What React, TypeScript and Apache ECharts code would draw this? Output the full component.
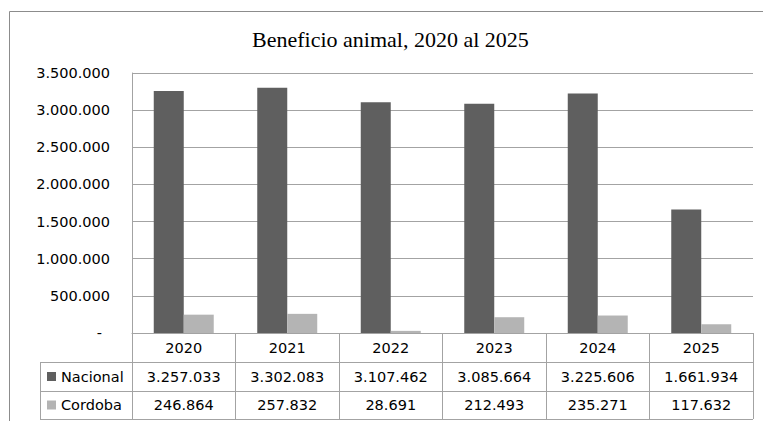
import React, { useEffect, useRef } from 'react';
import * as echarts from 'echarts';

const titleText = 'Beneficio animal, 2020 al 2025';
const categories = ['2020', '2021', '2022', '2023', '2024', '2025'];
const seriesNames = ['Nacional', 'Cordoba'];
const nacional = [3257033, 3302083, 3107462, 3085664, 3225606, 1661934];
const cordoba = [246864, 257832, 28691, 212493, 235271, 117632];
const seriesColors = ['#5f5f5f', '#b4b4b4'];
const yMin = 0;
const yMax = 3500000;
const yInterval = 500000;

const fmt = (v: number) => String(Math.round(v)).replace(/\B(?=(\d{3})+(?!\d))/g, '.');

const FONT = 'DejaVu Sans';
const FS = 14.5;
const LINE = '#a3a3a3';
const FRAME = '#8c8c8c';

export default function App() {
  const ref = useRef<HTMLDivElement>(null);
  useEffect(() => {
    if (!ref.current) return;
    const chart = echarts.init(ref.current, null, { renderer: 'svg' });
    const gridLeft = 132;
    const gridTop = 73;
    const gridRightX = 753;
    const axisY = 333;
    const rowH = [29, 29, 28];
    const tableLeft = 40;
    const W = 763;
    const H = 421;
    chart.setOption({
      animation: false,
      backgroundColor: '#ffffff',
      title: {
        text: titleText,
        left: 252,
        top: 28,
        padding: 0,
        textStyle: { fontFamily: 'Liberation Serif', fontSize: 22, fontWeight: 'normal', color: '#000' },
      },
      grid: { left: gridLeft, top: gridTop, right: W - gridRightX, bottom: H - axisY, containLabel: false },
      xAxis: {
        type: 'category',
        data: categories,
        axisLine: { show: true, lineStyle: { color: LINE, width: 1 } },
        axisTick: { show: true, length: rowH[0] + rowH[1] + rowH[2], lineStyle: { color: LINE, width: 1 } },
        axisLabel: {
          margin: 0,
          lineHeight: rowH[0],
          verticalAlign: 'top',
          fontFamily: FONT,
          fontSize: FS,
          fontWeight: 'normal',
          color: '#000',
        },
      },
      yAxis: {
        type: 'value',
        min: yMin,
        max: yMax,
        interval: yInterval,
        axisLine: { show: true, lineStyle: { color: LINE, width: 1 } },
        axisTick: { show: false },
        splitLine: { show: true, lineStyle: { color: LINE, width: 1 } },
        axisLabel: {
          margin: 22,
          fontFamily: FONT,
          fontSize: FS,
          fontWeight: 'normal',
          color: '#000',
          formatter: (v: number) => (v === 0 ? '{z|-}' : fmt(v)),
          rich: { z: { fontFamily: FONT, fontSize: FS, fontWeight: 'normal', color: '#000', padding: [0, 8, 0, 0] } },
        },
      },
      series: [
        {
          name: seriesNames[0],
          type: 'bar',
          data: nacional,
          barWidth: 30,
          barGap: '0%',
          itemStyle: { color: seriesColors[0] },
        },
        {
          name: seriesNames[1],
          type: 'bar',
          data: cordoba,
          barWidth: 30,
          barGap: '0%',
          itemStyle: { color: seriesColors[1] },
        },
      ],
    });

    const r1 = axisY + rowH[0];
    const r2 = r1 + rowH[1];
    const r3 = r2 + rowH[2];
    const graphics: any[] = [];
    const ln = (x1: number, y1: number, x2: number, y2: number, color: string) =>
      graphics.push({ type: 'line', silent: true, shape: { x1, y1, x2, y2 }, style: { stroke: color, lineWidth: 1 } });
    // outer frame
    ln(9.5, 11.5, W, 11.5, FRAME);
    ln(9.5, 11.5, 9.5, H, FRAME);
    // table lines
    [r1, r2, r3].forEach((y) => ln(tableLeft, y + 0.5, gridRightX, y + 0.5, LINE));
    ln(tableLeft + 0.5, r1, tableLeft + 0.5, r3 + 0.5, LINE);
    const rowsData = [nacional, cordoba];
    const rowTops = [r1, r2];
    rowsData.forEach((vals, ri) => {
      const cy = rowTops[ri] + rowH[ri + 1] / 2;
      graphics.push({
        type: 'rect',
        silent: true,
        shape: { x: 47, y: cy - 4.5, width: 9, height: 9 },
        style: { fill: seriesColors[ri] },
      });
      graphics.push({
        type: 'text',
        silent: true,
        x: 61,
        y: cy,
        style: { text: seriesNames[ri], fontFamily: FONT, fontSize: FS, fill: '#000', align: 'left', verticalAlign: 'middle' },
      });
      vals.forEach((v, ci) => {
        const cx = chart.convertToPixel({ xAxisIndex: 0 }, ci) as number;
        graphics.push({
          type: 'text',
          silent: true,
          x: cx,
          y: cy,
          style: { text: fmt(v), fontFamily: FONT, fontSize: FS, fill: '#000', align: 'center', verticalAlign: 'middle' },
        });
      });
    });
    chart.setOption({ graphic: graphics });
    return () => chart.dispose();
  }, []);
  return <div ref={ref} style={{ position: 'fixed', left: 0, top: 0, width: 763, height: 421 }} />;
}
